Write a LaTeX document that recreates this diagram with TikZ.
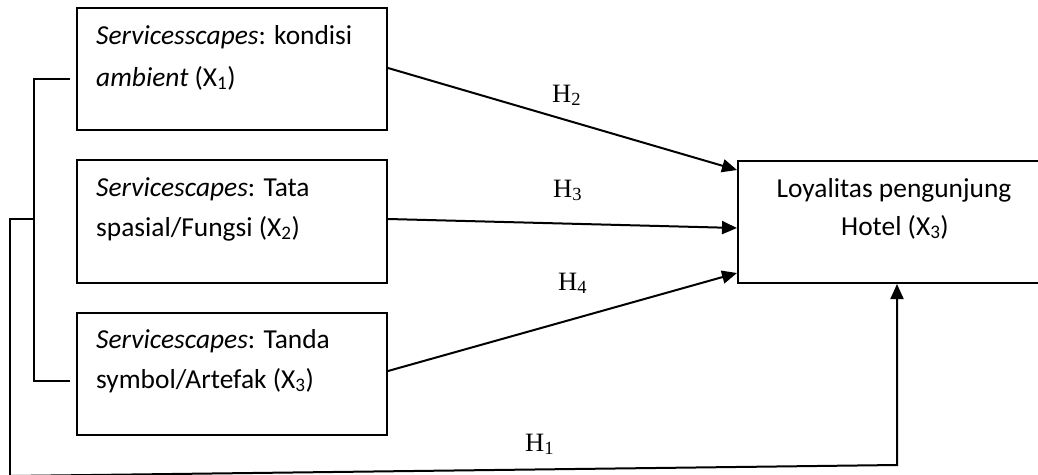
\documentclass[tikz,border=0pt]{standalone}
\usepackage{fontspec}
\setmainfont{Carlito}
\newfontfamily\tnr{Liberation Serif}
\usetikzlibrary{arrows.meta}
\tikzset{
  box/.style={draw, line width=2pt, minimum width=310pt, minimum height=122pt, inner sep=0pt},
  txt/.style={anchor=base west, inner sep=0pt, font=\fontsize{27.4}{32}\selectfont},
  ctxt/.style={anchor=base, inner sep=0pt, font=\fontsize{27.4}{32}\selectfont},
  hlab/.style={anchor=base west, inner sep=0pt, font=\tnr\fontsize{26.5}{30}\selectfont},
  conn/.style={line width=2pt},
  arr/.style={line width=2pt, -{Triangle[length=15pt,width=13pt]}}
}
\begin{document}
\begin{tikzpicture}[x=1pt,y=-1pt]
\useasboundingbox (0,0) rectangle (1038,474);
% boxes
\node[box] (b1) at (232,69) {};
\node[box, minimum height=123pt] (b2) at (232,221.5) {};
\node[box] (b3) at (232,374) {};
\node[box, minimum width=312pt] (b4) at (894,222) {};
% box texts
\node[txt] (t1a) at (96,44) {\textit{Servicesscapes}: kondisi};
\node[txt] (t1b) at (96,86) {\textit{ambient} (X\textsubscript{1})};
\node[txt] (t2a) at (96,196) {\textit{Servicescapes}: Tata};
\node[txt] (t2b) at (96,236) {spasial/Fungsi (X\textsubscript{2})};
\node[txt] (t3a) at (96,348) {\textit{Servicescapes}: Tanda};
\node[txt] (t3b) at (96,388) {symbol/Artefak (X\textsubscript{3})};
\node[ctxt] (t4a) at (894,197) {Loyalitas pengunjung};
\node[ctxt] (t4b) at (895,235) {Hotel (X\textsubscript{3})};
% hypothesis labels
\node[hlab] (h2) at (552,102) {H\textsubscript{2}};
\node[hlab] (h3) at (553,197) {H\textsubscript{3}};
\node[hlab] (h4) at (558,290) {H\textsubscript{4}};
\node[hlab] (h1) at (525,451) {H\textsubscript{1}};
% bracket coordinates
\coordinate (k1) at (34,79);
\coordinate (k2) at (34,219);
\coordinate (k3) at (34,381);
\coordinate (k4) at (10,219);
\coordinate (k5) at (10,476);
\coordinate (k6) at (897,465);
% bracket
\draw[conn] ([shift={(-6pt,-10pt)}]b1.west) -- (k1) -- (k3) -- ([shift={(-6pt,-7pt)}]b3.west);
\draw[conn] (k2) -- (k4) -- (k5);
% arrows
\draw[arr] ([yshift=1pt]b1.east) -- ([yshift=52pt]b4.west);
\draw[arr] ([yshift=2.5pt]b2.east) -- ([yshift=-6pt]b4.west);
\draw[arr] ([yshift=3pt]b3.east) -- ([yshift=-51pt]b4.west);
\draw[arr] (k5) -- (k6) -- ([xshift=3pt]b4.south);
\end{tikzpicture}
\end{document}
